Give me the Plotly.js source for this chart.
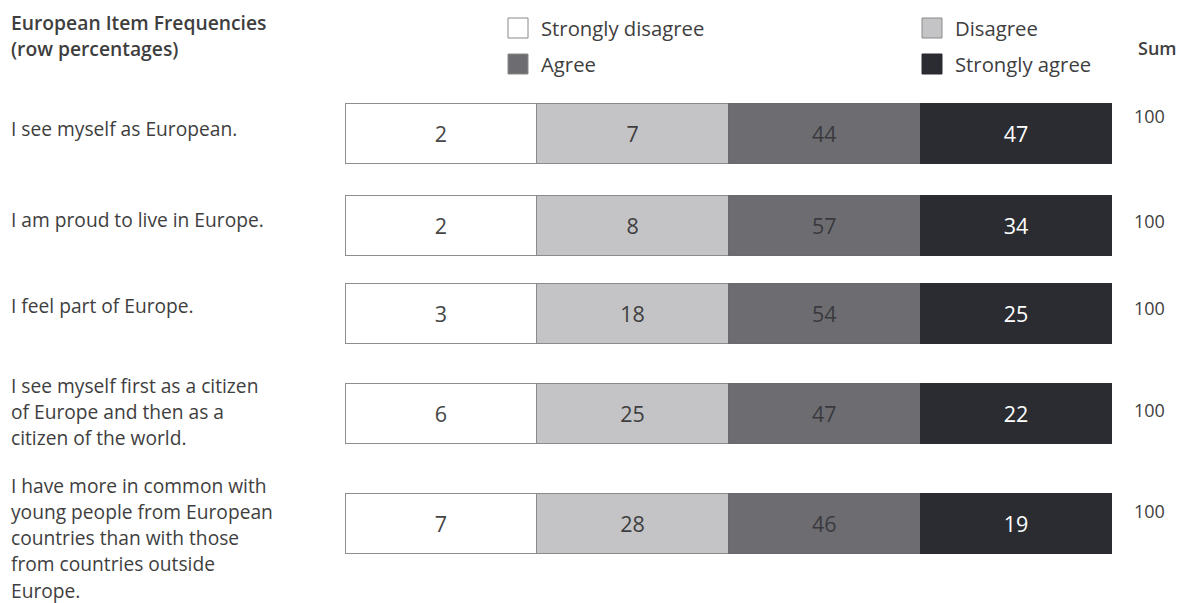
<!DOCTYPE html>
<html>
<head>
<meta charset="utf-8">
<script src="https://cdn.plot.ly/plotly-3.0.1.min.js"></script>
<style>html,body{margin:0;padding:0;background:#fff;}#chart{width:1180px;height:603px;}</style>
</head>
<body>
<div id="chart"></div>
<script>
// ---- data ----
const categories = ['Strongly disagree', 'Disagree', 'Agree', 'Strongly agree'];
const statements = [
  'I see myself as European.',
  'I am proud to live in Europe.',
  'I feel part of Europe.',
  'I see myself first as a citizen\nof Europe and then as a\ncitizen of the world.',
  'I have more in common with\nyoung people from European\ncountries than with those\nfrom countries outside\nEurope.'
];
const stronglyDisagree = [2, 2, 3, 6, 7];
const disagree = [7, 8, 18, 25, 28];
const agree = [44, 57, 54, 47, 46];
const stronglyAgree = [47, 34, 25, 22, 19];
const rowSums = [100, 100, 100, 100, 100];
const series = [stronglyDisagree, disagree, agree, stronglyAgree];
const titleLines = ['European Item Frequencies', '(row percentages)'];
const sumHeader = 'Sum';

// ---- layout / style (pixel positions, not data) ----
const W = 1180, H = 603, ML = 345, MR = 68;
const PW = W - ML - MR;
const px = v => (v - ML) / PW; // pixel x -> paper x
const rowPos = [133, 225, 313, 413, 523];
const labelTop = [128, 219, 305, 385, 485];
const lineStep = 26.3;
const sumPos = [116, 221, 308, 410, 511];
const fills = ['#ffffff', '#c4c4c6', '#6d6d71', '#2a2c32'];
const lines = ['#8e8e8e', '#8a8a8c', '#6a6a6e', '#2a2c32'];
const textCols = ['#454545', '#3e3e40', '#3a3a3e', '#ffffff'];
const FONT = '"Open Sans", "Noto Sans", sans-serif';
const txt = '#3e3e3e';

const traces = series.map((vals, i) => ({
  type: 'bar',
  orientation: 'h',
  name: categories[i],
  y: rowPos,
  x: vals.map(() => 1),
  width: 60,
  text: vals.map(String),
  customdata: vals,
  hovertemplate: '%{customdata}<extra>' + categories[i] + '</extra>',
  textposition: 'inside',
  insidetextanchor: 'middle',
  textangle: 0,
  constraintext: 'none',
  textfont: {family: FONT, size: 21.5, color: textCols[i]},
  marker: {color: fills[i], line: {color: lines[i], width: 1}},
  showlegend: false
}));

const annotations = [];
const shapes = [];
// title
titleLines.forEach((t, k) => annotations.push({
  xref: 'paper', yref: 'y', x: px(9), y: 22 + k * 26, xanchor: 'left', yanchor: 'middle',
  text: t, showarrow: false, font: {family: FONT, size: 19.3, color: txt, weight: 600}
}));
// row labels
statements.forEach((s, r) => {
  s.split('\n').forEach((ln, k) => annotations.push({
    xref: 'paper', yref: 'y', x: px(9), y: labelTop[r] + k * lineStep, xanchor: 'left', yanchor: 'middle',
    text: ln, showarrow: false, font: {family: FONT, size: 19.2, color: txt}
  }));
});
// sums
annotations.push({
  xref: 'paper', yref: 'y', x: px(1179), y: 48, xanchor: 'right', yanchor: 'middle',
  text: sumHeader, showarrow: false, font: {family: FONT, size: 18, color: txt, weight: 600}
});
rowSums.forEach((total, r) => {
  annotations.push({
    xref: 'paper', yref: 'y', x: px(1149), y: sumPos[r], xanchor: 'center', yanchor: 'middle',
    text: String(total), showarrow: false, font: {family: FONT, size: 18, color: txt}
  });
});
// legend (2x2 grid)
const legX = [508, 922], legY = [28, 64];
categories.forEach((c, i) => {
  const col = i % 2, row = Math.floor(i / 2);
  const x0 = legX[col], yc = legY[row];
  shapes.push({
    type: 'rect', xref: 'paper', yref: 'y', x0: px(x0), x1: px(x0 + 20), y0: yc - 10, y1: yc + 10,
    fillcolor: fills[i], line: {color: i === 3 ? '#2a2c32' : '#8a8a8a', width: 1}
  });
  annotations.push({
    xref: 'paper', yref: 'y', x: px(x0 + 31), y: yc, xanchor: 'left', yanchor: 'middle',
    text: c, showarrow: false, font: {family: FONT, size: 20.3, color: txt}
  });
});

const layout = {
  width: W, height: H,
  margin: {l: ML, r: MR, t: 0, b: 0, pad: 0},
  paper_bgcolor: '#ffffff', plot_bgcolor: '#ffffff',
  barmode: 'stack',
  bargap: 0,
  showlegend: false,
  xaxis: {range: [0, series.length], visible: false, fixedrange: true},
  yaxis: {range: [H, 0], visible: false, fixedrange: true},
  annotations: annotations,
  shapes: shapes,
  font: {family: FONT}
};

Plotly.newPlot('chart', traces, layout, {displayModeBar: false, staticPlot: true});
</script>
</body>
</html>
